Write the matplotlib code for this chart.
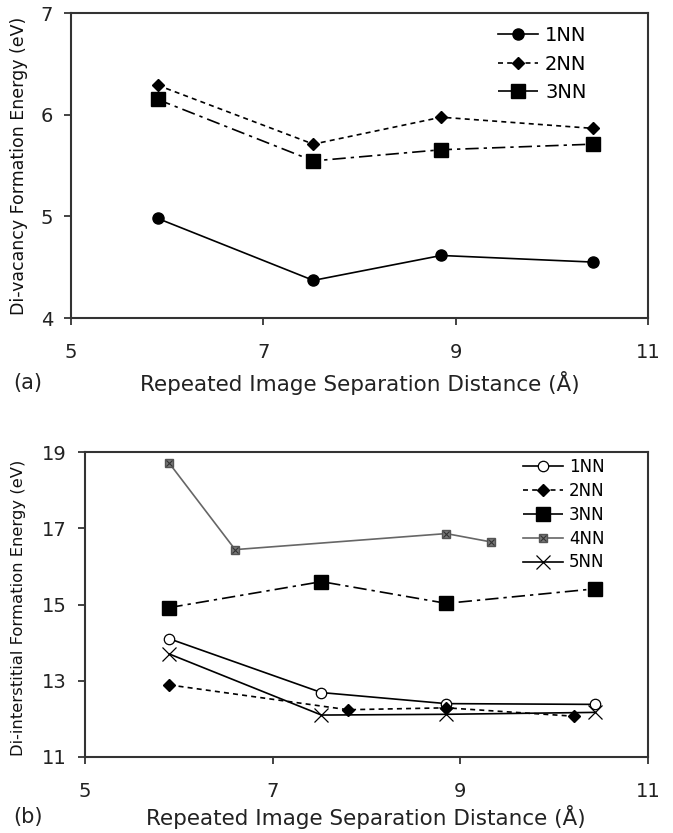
import numpy as np
import matplotlib.pyplot as plt

# (a) di-vacancy
xa = [5.9, 7.52, 8.85, 10.43]
vac_1nn = [4.98, 4.37, 4.615, 4.55]
vac_2nn = [6.29, 5.71, 5.975, 5.865]
vac_3nn = [6.15, 5.545, 5.655, 5.71]

# (b) di-interstitial
xb = [5.9, 7.52, 8.85, 10.43]
int_1nn = [14.10, 12.69, 12.40, 12.38]
x_2nn = [5.9, 7.8, 8.85, 10.21]
int_2nn = [12.89, 12.24, 12.29, 12.07]
int_3nn = [14.92, 15.60, 15.03, 15.41]
x_4nn = [5.9, 6.6, 8.85, 9.33]
int_4nn = [18.70, 16.44, 16.86, 16.64]
int_5nn = [13.70, 12.10, 12.12, 12.17]

xlabel = 'Repeated Image Separation Distance (Å)'

plt.rcParams['font.family'] = ['DejaVu Sans']
fig = plt.figure(figsize=(6.73, 8.33), dpi=100)

def style(ax, ylim, yticks):
    ax.set_xlim(5, 11)
    ax.set_ylim(*ylim)
    ax.set_xticks([5, 7, 9, 11])
    ax.set_yticks(yticks)
    ax.tick_params(direction='out', length=5, width=1.2, labelsize=14,
                   colors='#222222')
    ax.tick_params(axis='x', pad=13)
    ax.tick_params(axis='y', pad=8)
    for s in ax.spines.values():
        s.set_linewidth(1.5)
        s.set_color('#333333')

lw = 1.2
dash2 = (0, (3, 2.5))
dash3 = (0, (8, 3, 2, 3))

# top panel
ax1 = fig.add_axes([71 / 673, 1 - 318 / 833, 577 / 673, 305 / 833])
ax1.plot(xa, vac_1nn, '-', color='k', lw=lw, marker='o', ms=8, label='1NN')
ax1.plot(xa, vac_2nn, color='k', lw=lw, ls=dash2, marker='D', ms=6.5, label='2NN')
ax1.plot(xa, vac_3nn, color='k', lw=lw, ls=dash3, marker='s', ms=9.5, label='3NN')
style(ax1, (4, 7), [4, 5, 6, 7])
ax1.set_ylabel('Di-vacancy Formation Energy (eV)', fontsize=12.5, color='#111111')
ax1.yaxis.set_label_coords(-0.074, 0.5)
ax1.legend(loc='upper left', bbox_to_anchor=(0.740, 0.958), frameon=False,
           fontsize=14, handlelength=2.06, handletextpad=0.36, labelspacing=0.5,
           borderaxespad=0, borderpad=0)
fig.text(0.535, 1 - 383 / 833, xlabel, fontsize=15.5, ha='center', va='center',
         color='#222222')
fig.text(13 / 673, 1 - 383 / 833, '(a)', fontsize=15, ha='left', va='center',
         color='#222222')

# bottom panel
ax2 = fig.add_axes([85 / 673, 1 - 757 / 833, 563 / 673, 305 / 833])
ax2.plot(xb, int_1nn, '-', color='k', lw=lw, marker='o', ms=7.5, mfc='white',
         mew=0.9, label='1NN')
ax2.plot(x_2nn, int_2nn, color='k', lw=lw, ls=dash2, marker='D', ms=6, label='2NN')
ax2.plot(xb, int_3nn, color='k', lw=lw, ls=dash3, marker='s', ms=10, label='3NN')
l4, = ax2.plot(x_4nn, int_4nn, '-', color='#666666', lw=1.2, marker='s', ms=5.5,
               mfc='#777777', mec='#555555')
m4, = ax2.plot(x_4nn, int_4nn, ls='none', marker='x', ms=4.5, color='#333333', mew=0.8)
ax2.plot(xb, int_5nn, '-', color='k', lw=lw, marker='x', ms=10, mew=0.9, label='5NN')
style(ax2, (11, 19), [11, 13, 15, 17, 19])
ax2.set_ylabel('Di-interstitial Formation Energy (eV)', fontsize=11.8, color='#111111')
ax2.yaxis.set_label_coords(-0.104, 0.49)
h, lab = ax2.get_legend_handles_labels()
h = h[:3] + [(l4, m4)] + h[3:]
lab = lab[:3] + ['4NN'] + lab[3:]
ax2.legend(h, lab, loc='upper left', bbox_to_anchor=(0.778, 0.98), frameon=False,
           fontsize=12, handlelength=2.4, handletextpad=0.36, labelspacing=0.35,
           borderaxespad=0, borderpad=0)
fig.text(366 / 673, 1 - 817 / 833, xlabel, fontsize=15.5, ha='center', va='center',
         color='#222222')
fig.text(13 / 673, 1 - 817 / 833, '(b)', fontsize=15, ha='left', va='center',
         color='#222222')

fig.savefig('out.png', dpi=100)
